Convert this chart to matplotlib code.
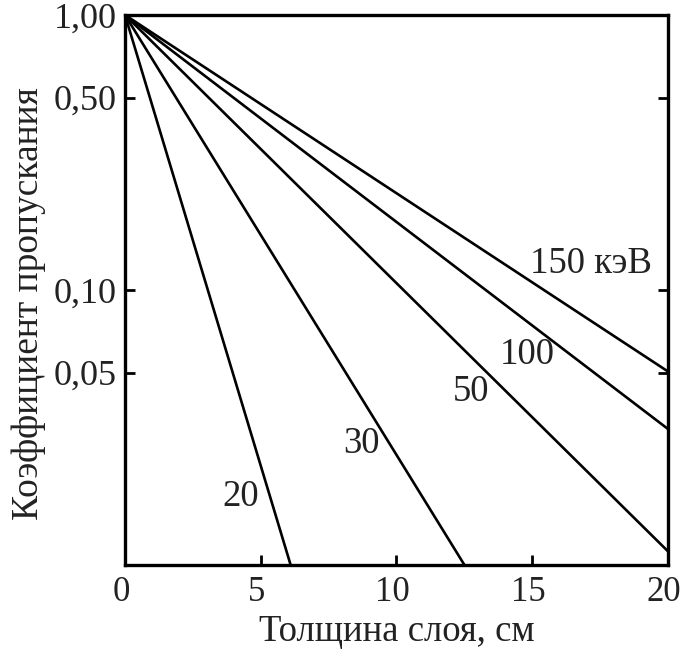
import matplotlib
matplotlib.use("Agg")
import matplotlib.pyplot as plt
from matplotlib.ticker import NullLocator
from matplotlib.transforms import ScaledTranslation

plt.rcParams["font.family"] = ["Liberation Serif", "DejaVu Serif"]

# энергии излучения и кривые пропускания (начало и конец каждой прямой)
energies = ["20", "30", "50", "100", "150 кэВ"]
thickness_cm = [[0, 6.1], [0, 12.5], [0, 20], [0, 20], [0, 20]]
transmission = [[1.0, 0.01], [1.0, 0.01], [1.0, 0.0112], [1.0, 0.0312], [1.0, 0.0505]]

# положение подписей кривых
label_x = [4.27, 8.7, 12.74, 14.8, 17.16]
label_y = [0.0177, 0.0275, 0.0426, 0.058, 0.125]

x_ticks = [0, 5, 10, 15, 20]
y_ticks = [1.0, 0.5, 0.1, 0.05]
y_tick_labels = ["1,00", "0,50", "0,10", "0,05"]

fig = plt.figure(figsize=(6.83, 6.5), dpi=100)
ax = fig.add_axes([0.183, 0.131, 0.795, 0.846])

for xs, ys in zip(thickness_cm, transmission):
    ax.plot(xs, ys, color="black", linewidth=1.9, solid_capstyle="round")

for txt, lx, ly in zip(energies, label_x, label_y):
    ax.text(lx, ly, txt, fontsize=26.5, ha="center", va="center", color="#222222")

ax.set_yscale("log")
ax.set_xlim(0, 20)
ax.set_ylim(0.01, 1.0)

ax.set_xticks(x_ticks)
ax.set_xticklabels([str(v) for v in x_ticks])
ax.set_yticks(y_ticks)
ax.set_yticklabels(y_tick_labels)
ax.yaxis.set_minor_locator(NullLocator())

ax.tick_params(axis="both", which="major", direction="in", length=7, width=2,
               labelcolor="#222222", right=True, top=False)
ax.tick_params(axis="x", pad=8, labelsize=25)
ax.tick_params(axis="y", pad=6, labelsize=26)

# подписи оси X в оригинале немного сдвинуты влево
shift = ScaledTranslation(-4 / 100, 0, fig.dpi_scale_trans)
for lab in ax.get_xticklabels():
    lab.set_transform(lab.get_transform() + shift)

for sp in ax.spines.values():
    sp.set_linewidth(2.4)

ax.set_xlabel("Толщина слоя, см", fontsize=26.5, color="#222222", labelpad=4)
ax.set_ylabel("Коэффициент пропускания", fontsize=27, color="#222222")
ax.yaxis.set_label_coords(-0.145, 0.475)

fig.savefig("out.png", dpi=100)
